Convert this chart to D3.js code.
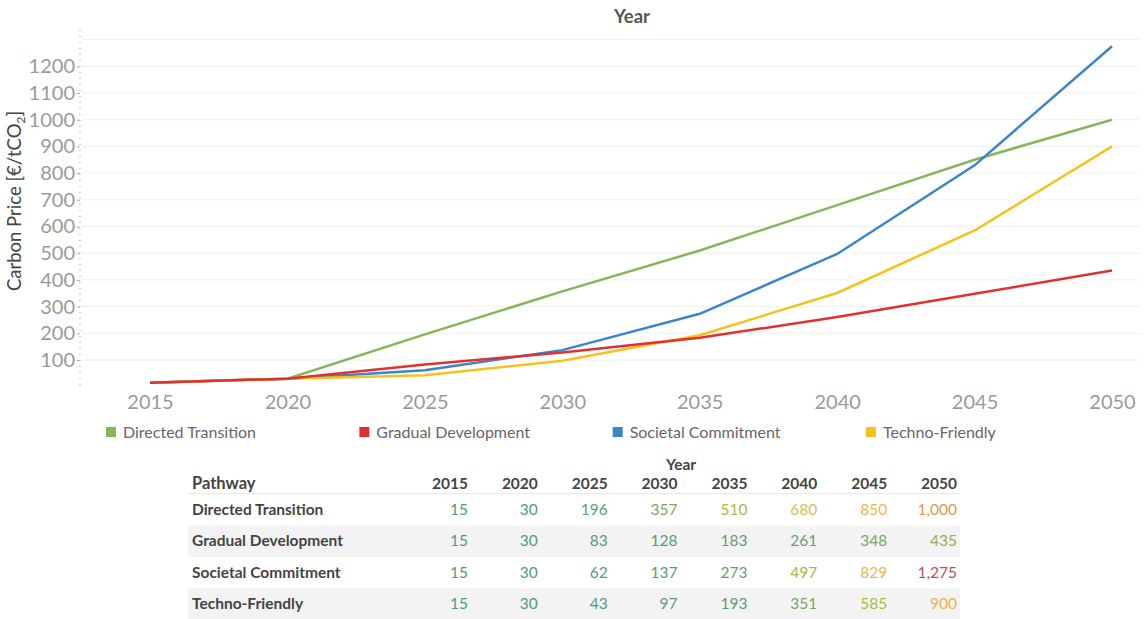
<!DOCTYPE html>
<html>
<head>
<meta charset="utf-8">
<script src="https://cdn.jsdelivr.net/npm/d3@7"></script>
<style>
  body { margin: 0; background: #fff; }
  svg { font-family: "Lato", "Open Sans", sans-serif; }
</style>
</head>
<body>
<svg id="chart" width="1147" height="619"></svg>
<script>
const years = [2015, 2020, 2025, 2030, 2035, 2040, 2045, 2050];
const pathways = ["Directed Transition", "Gradual Development", "Societal Commitment", "Techno-Friendly"];
const directed = [15, 30, 196, 357, 510, 680, 850, 1000];
const gradual = [15, 30, 83, 128, 183, 261, 348, 435];
const societal = [15, 30, 62, 137, 273, 497, 829, 1275];
const techno = [15, 30, 43, 97, 193, 351, 585, 900];
const yTicks = [100, 200, 300, 400, 500, 600, 700, 800, 900, 1000, 1100, 1200];
const lineColors = ["#86b55a", "#e0302f", "#3a86c8", "#f5c21b"];

const series = pathways.map((name, i) => ({
  name,
  values: [directed, gradual, societal, techno][i],
  color: lineColors[i]
}));

const svg = d3.select("#chart");

const x = d3.scaleLinear().domain([2015, 2050]).range([150, 1112]);
const y = d3.scaleLinear().domain([0, 1300]).range([386.7, 39.6]);

// gridlines
svg.append("g")
  .selectAll("line")
  .data(d3.range(100, 1400, 100))
  .join("line")
  .attr("x1", 82).attr("x2", 1140)
  .attr("y1", d => y(d)).attr("y2", d => y(d))
  .attr("stroke", "#f0f0f0");

// y axis: dotted spine
svg.append("line")
  .attr("x1", 80).attr("x2", 80)
  .attr("y1", 30).attr("y2", 387)
  .attr("stroke", "#999")
  .attr("stroke-dasharray", "1,5");

const yAxis = d3.axisLeft(y).tickValues(yTicks).tickFormat(d3.format("d")).tickSize(3).tickPadding(2);
svg.append("g")
  .attr("transform", "translate(80,0)")
  .call(yAxis)
  .call(g => g.select(".domain").remove())
  .call(g => g.selectAll("line").attr("stroke", "#aaa"))
  .call(g => g.selectAll("text")
    .attr("fill", "#9a9a9a")
    .attr("font-size", 20)
    .attr("font-family", "Lato, sans-serif"));

const xAxis = d3.axisBottom(x).tickValues(years).tickFormat(d3.format("d")).tickSize(0).tickPadding(8);
svg.append("g")
  .attr("transform", "translate(0,387)")
  .call(xAxis)
  .call(g => g.select(".domain").remove())
  .call(g => g.selectAll("text")
    .attr("fill", "#9a9a9a")
    .attr("font-size", 20)
    .attr("font-family", "Lato, sans-serif"));

// titles
svg.append("text")
  .attr("x", 632).attr("y", 23)
  .attr("text-anchor", "middle")
  .attr("font-size", 18.5)
  .attr("font-weight", 700)
  .attr("fill", "#555")
  .text("Year");

const ylab = svg.append("text")
  .attr("transform", "translate(21,201) rotate(-90)")
  .attr("text-anchor", "middle")
  .attr("font-size", 18.5)
  .attr("fill", "#444");
ylab.append("tspan").text("Carbon Price [€/tCO");
ylab.append("tspan").attr("font-size", 12).attr("dy", 4).text("2");
ylab.append("tspan").attr("dy", -4).text("]");

// lines
const line = d3.line()
  .x((d, i) => x(years[i]))
  .y(d => y(d));

svg.append("g")
  .selectAll("path")
  .data([series[0], series[2], series[3], series[1]])
  .join("path")
  .attr("fill", "none")
  .attr("stroke", d => d.color)
  .attr("stroke-width", 2.5)
  .attr("d", d => line(d.values));

// legend
const legendX = d3.scalePoint().domain(pathways).range([106, 866]);
const legend = svg.append("g")
  .selectAll("g")
  .data(series)
  .join("g")
  .attr("transform", d => `translate(${legendX(d.name)},427)`);
legend.append("rect")
  .attr("width", 10).attr("height", 10)
  .attr("fill", d => d.color);
legend.append("text")
  .attr("x", 17).attr("y", 11)
  .attr("font-size", 16)
  .attr("fill", "#666")
  .text(d => d.name);

// table
const colX = d3.scaleLinear().domain([0, 7]).range([468, 957]);
const rowY = d3.scaleBand().domain(pathways).range([494, 620]);
const valueColor = d3.scaleLinear()
  .domain([0, 300, 520, 600, 700, 900, 1275])
  .range(["#4f9b80", "#6a9e6e", "#b3b742", "#a9b94e", "#e6c250", "#e6b34e", "#b9504f"]);

const table = svg.append("g");

table.selectAll("rect")
  .data(pathways)
  .join("rect")
  .attr("x", 188).attr("width", 772)
  .attr("y", d => rowY(d))
  .attr("height", rowY.bandwidth())
  .attr("fill", (d, i) => i % 2 ? "#f3f3f3" : "#fff");

table.append("line")
  .attr("x1", 188).attr("x2", 960)
  .attr("y1", 493.5).attr("y2", 493.5)
  .attr("stroke", "#eaeaea");

table.append("text")
  .attr("x", 681).attr("y", 470)
  .attr("text-anchor", "middle")
  .attr("font-size", 15.5)
  .attr("font-weight", 700)
  .attr("fill", "#444")
  .text("Year");

table.append("text")
  .attr("x", 192).attr("y", 489)
  .attr("font-size", 16.5)
  .attr("font-weight", 700)
  .attr("fill", "#444")
  .text("Pathway");

table.selectAll(".yearHead")
  .data(years)
  .join("text")
  .attr("class", "yearHead")
  .attr("x", (d, i) => colX(i))
  .attr("y", 489)
  .attr("text-anchor", "end")
  .attr("font-size", 15.5)
  .attr("font-weight", 700)
  .attr("fill", "#444")
  .text(d => d);

const rows = table.selectAll(".row")
  .data(series)
  .join("g")
  .attr("class", "row")
  .attr("transform", d => `translate(0,${rowY(d.name) + rowY.bandwidth() / 2 + 5})`);

rows.append("text")
  .attr("x", 192)
  .attr("font-size", 15.5)
  .attr("font-weight", 700)
  .attr("fill", "#444")
  .text(d => d.name);

rows.selectAll(".val")
  .data(d => d.values)
  .join("text")
  .attr("class", "val")
  .attr("x", (d, i) => colX(i))
  .attr("text-anchor", "end")
  .attr("font-size", 15.5)
  .attr("fill", d => valueColor(d))
  .text(d => d3.format(",")(d));
</script>
</body>
</html>
